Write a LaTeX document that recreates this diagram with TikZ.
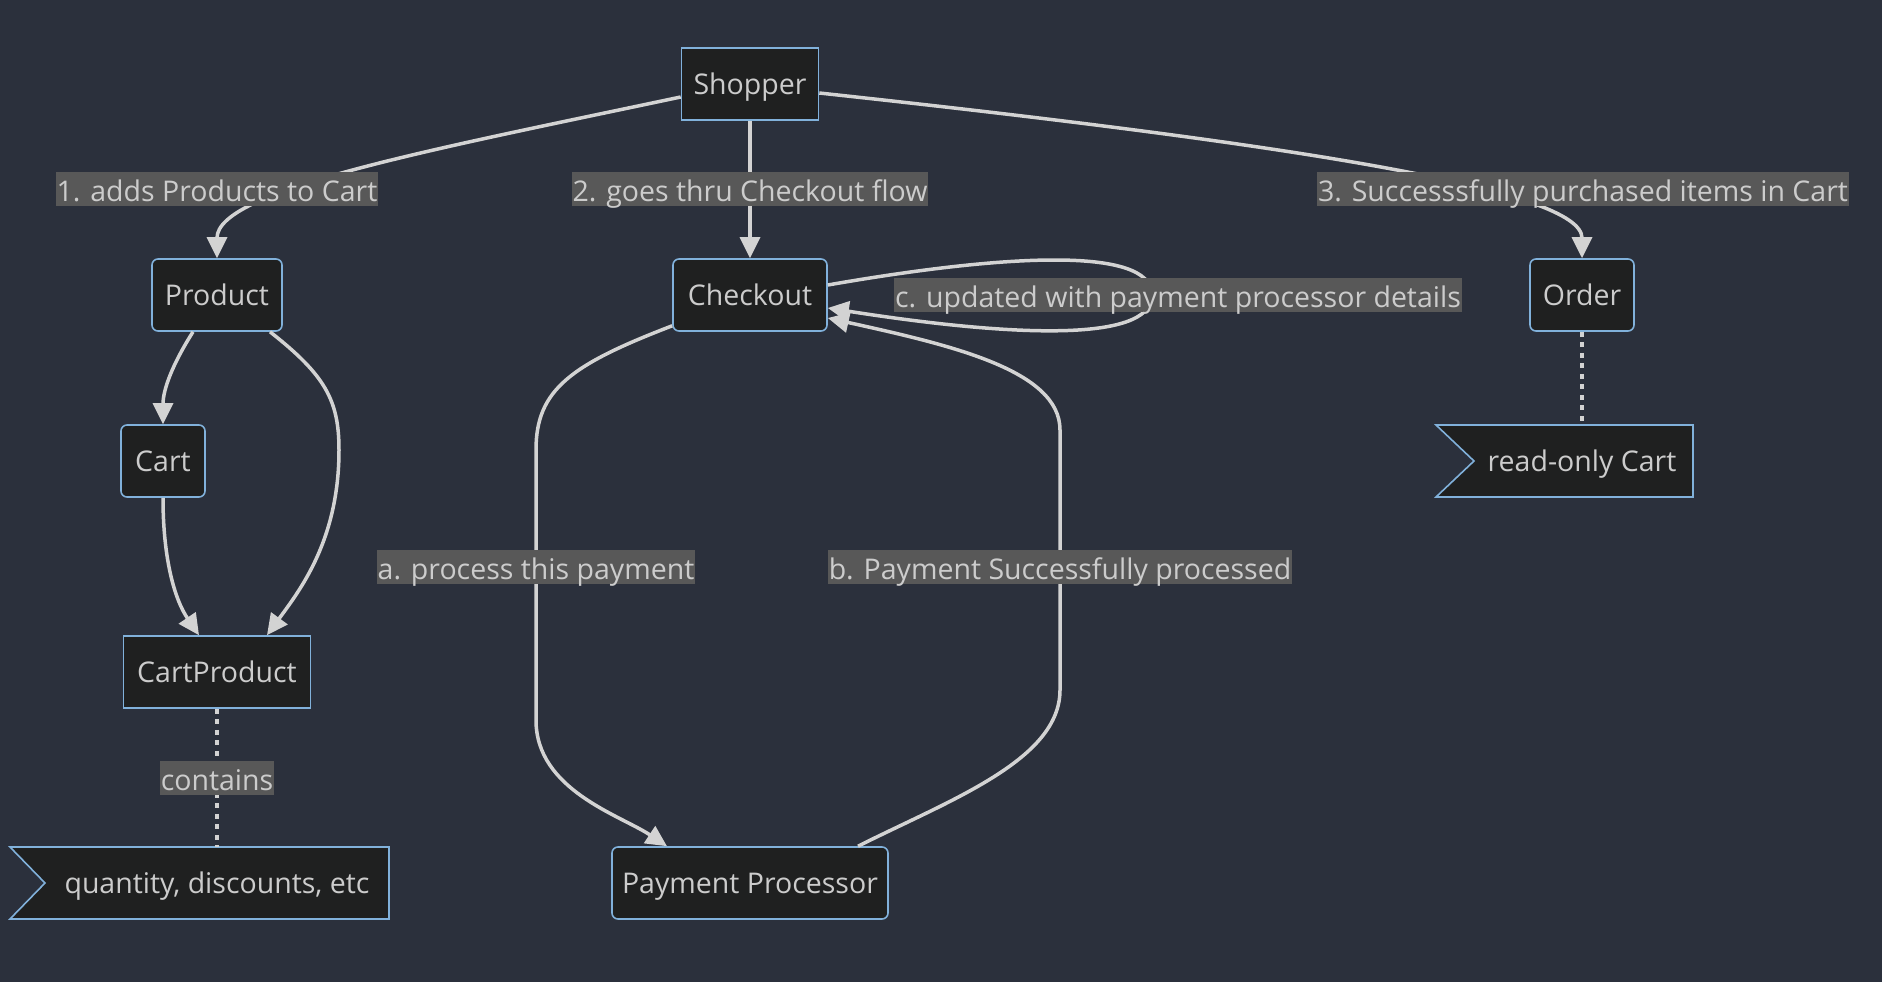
\documentclass[tikz,border=0pt]{standalone}
\usepackage{fontspec}
\setmainfont{Open Sans}
\usetikzlibrary{arrows.meta,calc}
\definecolor{bgc}{HTML}{2B303C}
\definecolor{nodefill}{HTML}{1F2020}
\definecolor{nodeborder}{HTML}{81B1DB}
\definecolor{nodetext}{HTML}{CCCCCC}
\definecolor{edgec}{HTML}{D3D3D3}
\definecolor{labelbg}{HTML}{585858}
\definecolor{labeltext}{HTML}{CCCCCC}
\begin{document}
\begin{tikzpicture}[x=1pt,y=-1pt,
 box/.style={draw=nodeborder, fill=nodefill, line width=1.6pt, text=nodetext, inner sep=0pt, minimum height=72pt, text height=21pt, text depth=0pt, font=\fontsize{28.5}{34}\selectfont},
 rbox/.style={box, rounded corners=6pt},
 flagshape/.style={draw=nodeborder, fill=nodefill, line width=1.6pt},
 flagtext/.style={text=nodetext, inner sep=0pt, minimum height=72pt, text height=21pt, text depth=0pt, font=\fontsize{28.5}{34}\selectfont},
 edge/.style={draw=edgec, line width=3.5pt, -{Triangle[length=21pt,width=20pt]}},
 dotedge/.style={draw=edgec, line width=3.5pt, dash pattern=on 5pt off 5.5pt},
 elabel/.style={fill=labelbg, text=labeltext, inner xsep=1pt, inner ysep=3pt, text height=26pt, text depth=2pt, font=\fontsize{28.5}{34}\selectfont}]
\fill[bgc] (0,0) rectangle (1882,982);
\useasboundingbox (0,0) rectangle (1882,982);

% nodes
\node[box, minimum width=137pt] (shopper) at (750,84) {Shopper};
\node[rbox, minimum width=130pt] (product) at (217,295) {Product};
\node[rbox, minimum width=154pt] (checkout) at (750,295) {Checkout};
\node[rbox, minimum width=104pt] (order) at (1582,295) {Order};
\node[rbox, minimum width=84pt] (cart) at (163,461) {Cart};
\node[box, minimum width=187pt] (cartproduct) at (217,672) {CartProduct};
\node[rbox, minimum width=276pt] (pp) at (750,883) {Payment Processor};

% flags
\path[flagshape] (10,847) -- (389,847) -- (389,919) -- (10,919) -- (45,883) -- cycle;
\node[flagtext] (qty) at (217,883) {quantity, discounts, etc};
\path[flagshape] (1436,425) -- (1693,425) -- (1693,497) -- (1436,497) -- (1474,461) -- cycle;
\node[flagtext] (ro) at (1582,461) {read-only Cart};

% edges
\draw[edge] ($(shopper.west)+(0,13)$) .. controls (430,150) and (217,190) .. (product.north);
\draw[edge] (shopper.south) -- (checkout.north);
\draw[edge] ($(shopper.east)+(0,9)$) .. controls (1300,145) and (1582,190) .. (order.north);
\draw[edge] ($(checkout.east)+(0,-10)$) .. controls (1000,255) and (1152,245) .. (1152,295) .. controls (1152,345) and (1000,335) .. ($(checkout.east)+(0,13)$);
\draw[edge] ($(checkout.south west)+(0,-6)$) .. controls (570,365) and (536,390) .. (536,450) -- (536,720) .. controls (536,790) and (620,815) .. ($(pp.north)+(-83,0)$);
\draw[edge] ($(pp.north)+(108,0)$) .. controls (950,800) and (1060,760) .. (1060,690) -- (1060,430) .. controls (1060,370) and (950,345) .. ($(checkout.east)+(0,23)$);
\draw[edge] ($(product.south)+(-24,0)$) .. controls (172,365) and (163,390) .. (cart.north);
\draw[edge] ($(product.south)+(53,0)$) .. controls (325,375) and (339,400) .. (339,450) .. controls (339,540) and (300,590) .. ($(cartproduct.north)+(50,0)$);
\draw[edge] (cart.south) .. controls (163,560) and (175,600) .. ($(cartproduct.north)+(-18,0)$);
\draw[dotedge] (cartproduct.south) -- (qty.north);
\draw[dotedge] (order.south) -- (ro.north);

% labels
\node[elabel] (l1) at (217,189) {1. adds Products to Cart};
\node[elabel] (l2) at (750,189) {2. goes thru Checkout flow};
\node[elabel] (l3) at (1583,189) {3. Successsfully purchased items in Cart};
\node[elabel] (lc) at (1178,295) {c. updated with payment processor details};
\node[elabel] (la) at (536,567) {a. process this payment};
\node[elabel] (lb) at (1060,567) {b. Payment Successfully processed};
\node[elabel] (lct) at (217,778) {contains};
\end{tikzpicture}
\end{document}
